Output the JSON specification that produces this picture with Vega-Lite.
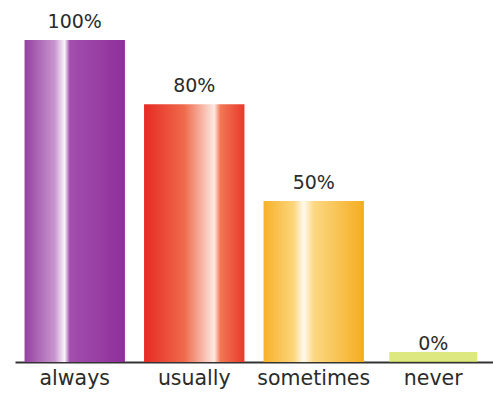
{
  "$schema": "https://vega.github.io/schema/vega-lite/v6.json",
  "autosize": {"type": "none"},
  "width": 478,
  "height": 362,
  "padding": {"left": 15, "top": 0, "right": 0, "bottom": 38},
  "background": "white",
  "config": {"view": {"stroke": null}},
  "data": {"values": [
    {"answer": "always", "pct": 100, "label": "100%"},
    {"answer": "usually", "pct": 80, "label": "80%"},
    {"answer": "sometimes", "pct": 50, "label": "50%"},
    {"answer": "never", "pct": 0, "label": "0%"}
  ]},
  "encoding": {
    "x": {"field": "answer", "type": "nominal", "sort": null,
      "scale": {"paddingInner": 0.16, "paddingOuter": 0.08},
      "axis": {"title": null, "ticks": false, "labelAngle": 0, "labelPadding": 6,
        "labelFont": "DejaVu Sans", "labelFontSize": 20.5, "labelColor": "#2b2b2b",
        "domainColor": "#333333", "domainWidth": 2, "grid": false}},
    "y": {"field": "pct", "type": "quantitative",
      "scale": {"domain": [0, 112.4], "nice": false}, "axis": null}
  },
  "layer": [
    {"transform": [{"filter": "datum.answer === 'always'"}],
     "mark": {"type": "bar", "color": {"gradient": "linear", "x1": 0, "x2": 1, "y1": 0, "y2": 0,
       "stops": [{"offset": 0, "color": "#94419f"}, {"offset": 0.3, "color": "#c894cf"}, {"offset": 0.4, "color": "#faf4fb"}, {"offset": 0.45, "color": "#a24fae"}, {"offset": 1, "color": "#8e2f9a"}]}}},
    {"transform": [{"filter": "datum.answer === 'usually'"}],
     "mark": {"type": "bar", "color": {"gradient": "linear", "x1": 0, "x2": 1, "y1": 0, "y2": 0,
       "stops": [{"offset": 0, "color": "#e62a23"}, {"offset": 0.4, "color": "#ef6a4c"}, {"offset": 0.7, "color": "#fde9e2"}, {"offset": 0.76, "color": "#f27755"}, {"offset": 1, "color": "#e8392b"}]}}},
    {"transform": [{"filter": "datum.answer === 'sometimes'"}],
     "mark": {"type": "bar", "color": {"gradient": "linear", "x1": 0, "x2": 1, "y1": 0, "y2": 0,
       "stops": [{"offset": 0, "color": "#f7b128"}, {"offset": 0.3, "color": "#fbd57a"}, {"offset": 0.4, "color": "#fffaf0"}, {"offset": 0.5, "color": "#fcd883"}, {"offset": 1, "color": "#f5ad1f"}]}}},
    {"transform": [{"filter": "datum.answer === 'never'"}],
     "mark": {"type": "tick", "orient": "horizontal", "thickness": 10, "size": 88, "yOffset": -5, "color": "#cfe04a"}},
    {"mark": {"type": "text", "baseline": "bottom", "dy": -8, "font": "DejaVu Sans", "fontSize": 19, "color": "#2b2b2b"},
     "encoding": {"text": {"field": "label"}}}
  ]
}
